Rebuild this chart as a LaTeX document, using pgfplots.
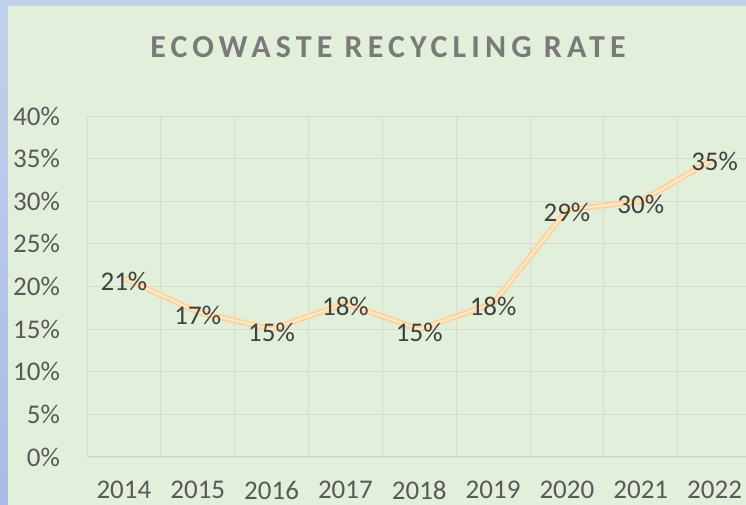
\documentclass[border=0pt]{standalone}
\usepackage{fontspec}
\setmainfont{Carlito}
\newfontfamily\titlefont[LetterSpace=16]{Carlito}
\usepackage{pgfplots}
\pgfplotsset{compat=1.18}
\definecolor{bggreen}{HTML}{E2EFDA}
\definecolor{bordtop}{HTML}{C1D1EC}
\definecolor{bordbot}{HTML}{A8BBE6}
\definecolor{titlegray}{HTML}{7A7A7A}
\definecolor{tickgray}{HTML}{595959}
\definecolor{labgray}{HTML}{404040}
\definecolor{gridc}{HTML}{D5DDD0}
\definecolor{axisc}{HTML}{D0D4CE}
\definecolor{lineout}{HTML}{FFD49E}
\definecolor{linein}{HTML}{F6EED6}
\begin{document}
\begin{tikzpicture}
\useasboundingbox (0pt,0pt) rectangle (746pt,505pt);
\clip (0pt,0pt) rectangle (746pt,505pt);
\shade[top color=bordtop, bottom color=bordbot] (0pt,0pt) rectangle (746pt,505pt);
\fill[bggreen] (8pt,0pt) rectangle (746pt,499pt);
\node[font=\titlefont\bfseries\fontsize{32}{38}\selectfont, text=titlegray, inner sep=0pt] at (388pt,458pt) {ECOWASTE RECYCLING RATE};
\begin{axis}[
  at={(87pt,48pt)}, anchor=south west,
  scale only axis, width=664.5pt, height=341pt,
  xmin=-0.5, xmax=8.5, ymin=0, ymax=40,
  xtick={0,...,8},
  xticklabels={2014,2015,2016,2017,2018,2019,2020,2021,2022},
  minor xtick={-0.5,0.5,...,8.5},
  ytick={0,5,...,40},
  yticklabel={\pgfmathprintnumber{\tick}\%},
  /pgf/number format/assume math mode=true,
  xminorgrids, ymajorgrids,
  major grid style={gridc, line width=0.8pt},
  minor grid style={gridc, line width=0.8pt},
  axis x line*=bottom, axis y line*=left,
  x axis line style={axisc, line width=1pt},
  y axis line style={draw=none},
  major tick length=0pt, minor tick length=0pt,
  tick style={draw=none},
  ticklabel style={font=\fontsize{27}{32}\selectfont, text=tickgray},
  yticklabel style={anchor=east, inner sep=0pt, xshift=-27pt},
  xticklabel style={anchor=north, inner sep=0pt, yshift=-24pt},
  clip=false,
]
\addplot[draw=lineout, line width=2.2pt, double=linein, double distance=1.6pt,
  nodes near coords={\pgfmathprintnumber{\pgfplotspointmeta}\%},
  every node near coord/.append style={anchor=center, yshift=-3pt, font=\fontsize{27}{32}\selectfont, text=labgray, /pgf/number format/assume math mode=true}]
  coordinates {(0,21) (1,17) (2,15) (3,18) (4,15) (5,18) (6,29) (7,30) (8,35)};
\end{axis}
\end{tikzpicture}
\end{document}
